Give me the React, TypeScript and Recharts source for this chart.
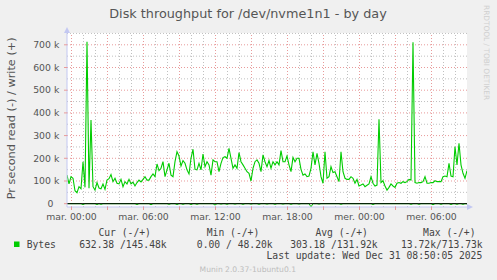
import { LineChart, Line, XAxis, YAxis, CartesianGrid, ReferenceLine } from "recharts";

// write throughput, kB/s, one sample every 10 min starting 23:37 (mon)
const writeK = [
  126, 87, 119, 112, 57, 48.2, 75, 66, 185, 72,
  713.73, 68, 369, 75, 60, 93, 69, 66, 87, 63,
  104, 110, 128, 97, 112, 90, 87, 107, 75, 97,
  87, 107, 87, 95, 78, 93, 104, 96, 107, 119,
  104, 104, 119, 131, 119, 175, 146, 156, 185, 119,
  149, 178, 126, 119, 185, 229, 210, 166, 190, 178,
  149, 131, 200, 240, 151, 149, 178, 149, 219, 163,
  185, 171, 126, 193, 185, 185, 141, 178, 203, 207,
  200, 244, 200, 156, 171, 156, 225, 185, 171, 156,
  141, 134, 100, 156, 185, 193, 178, 141, 215, 185,
  163, 190, 156, 185, 171, 185, 171, 234, 185, 185,
  210, 171, 141, 204, 185, 200, 200, 151, 126, 131,
  119, 122, 156, 229, 171, 222, 178, 119, 90, 229,
  112, 119, 163, 137, 141, 119, 97, 229, 141, 112,
  107, 107, 119, 112, 90, 107, 78, 82, 87, 75,
  81, 87, 119, 90, 78, 82, 372, 93, 101, 78,
  60, 72, 87, 78, 72, 90, 93, 90, 97, 93,
  97, 107, 104, 711, 93, 90, 93, 93, 97, 119,
  90, 90, 93, 93, 101, 97, 97, 97, 119, 122,
  119, 178, 122, 119, 251, 171, 266, 171, 134, 112,
  145.48,
];

// read throughput, kB/s (drawn below zero)
const readK = [
  0, 0, 0, 0, 0, 0, 0, 0, 4, 0,
  0, 0, 0, 0, 0, 4, 0, 3, 0, 0,
  0, 0, 0, 0, 0, 0, 0, 0, 0, 0,
  0, 0, 0, 0, 0, 4, 0, 0, 0, 0,
  0, 0, 5, 0, 0, 0, 0, 0, 0, 0,
  0, 3, 0, 0, 0, 4, 0, 0, 3, 0,
  0, 0, 4, 0, 0, 3, 0, 0, 0, 0,
  0, 0, 0, 0, 6, 0, 0, 2, 0, 0,
  3, 0, 0, 0, 2, 0, 0, 0, 3, 0,
  0, 0, 2, 0, 0, 0, 3, 0, 0, 0,
  2, 0, 0, 0, 3, 0, 0, 0, 2, 0,
  0, 0, 3, 0, 0, 0, 2, 0, 0, 0,
  0, 0, 13.72, 0, 0, 0, 2, 0, 0, 0,
  0, 0, 0, 0, 0, 0, 0, 3, 0, 0,
  0, 0, 0, 0, 0, 0, 0, 0, 0, 0,
  0, 0, 0, 4, 0, 0, 0, 0, 0, 0,
  0, 0, 0, 0, 0, 0, 0, 0, 0, 0,
  0, 0, 3, 0, 0, 0, 3, 0, 0, 0,
  0, 0, 0, 5, 0, 0, 0, 3, 0, 0,
  0, 0, 4, 0, 0, 3, 0, 0, 3, 0,
  0.63,
];

const xLabels = ["mar. 00:00", "mar. 06:00", "mar. 12:00", "mar. 18:00", "mer. 00:00", "mer. 06:00"];
const yTicks = [0, 100, 200, 300, 400, 500, 600, 700];
const legendHeaders = ["Cur (-/+)", "Min (-/+)", "Avg (-/+)", "Max (-/+)"];
const legendValues = ["632.38 /145.48k", "0.00 / 48.20k", "303.18 /131.92k", "13.72k/713.73k"];

const START_H = -0.375; // hours relative to tue 00:00
const STEP_H = 1 / 6;
const X_DOMAIN: [number, number] = [START_H, START_H + 400 / 12];
const Y_DOMAIN: [number, number] = [-14.6, 752];

const data = writeK.map((w, i) => ({ t: START_H + i * STEP_H, write: w, read: -readK[i] }));

const majorV = Array.from({ length: 11 }, (_, i) => i * 3);
const minorV = Array.from({ length: 33 }, (_, i) => i).filter((h) => h % 3 !== 0);
const majorH = yTicks.filter((v) => v > 0);
const minorH = Array.from({ length: 8 }, (_, i) => 50 + i * 100);

const GREEN = "#00cc00";
const MAJOR = "#e89a9a";
const MINOR = "#c0c0c0";
const AXIS = "#c3c8f2";
const SANS = "DejaVu Sans";
const MONO = "DejaVu Sans Mono";

const YTick = (p: any) => (
  <text x={p.x - (p.payload.value === 0 ? 6 : 0)} y={p.y} dy="0.355em" textAnchor="end" fill="#555" fontSize={9.3} fontFamily={SANS}>
    {p.payload.value === 0 ? "0" : `${p.payload.value} k`}
  </text>
);

export default function App() {
  return (
    <div style={{ position: "fixed", left: 0, top: 0, width: 497, height: 280, background: "#f0f0f0", overflow: "hidden" }}>
      <LineChart width={497} height={280} data={data} margin={{ top: 33, right: 30, bottom: 43, left: 0 }}>
        <CartesianGrid horizontal={false} vertical={false} fill="#ffffff" />
        {minorH.map((v) => (
          <ReferenceLine key={"mh" + v} y={v} stroke={MINOR} strokeDasharray="1 2" />
        ))}
        {minorV.map((v) => (
          <ReferenceLine key={"mv" + v} x={v} stroke={MINOR} strokeDasharray="1 2" />
        ))}
        {majorH.map((v) => (
          <ReferenceLine key={"Mh" + v} y={v} stroke={MAJOR} strokeDasharray="1 2" />
        ))}
        {majorV.map((v) => (
          <ReferenceLine key={"Mv" + v} x={v} stroke={MAJOR} strokeDasharray="1 2" />
        ))}
        <XAxis
          dataKey="t"
          type="number"
          domain={X_DOMAIN}
          allowDataOverflow
          ticks={majorV}
          interval={0}
          tickFormatter={(h: number) => (h % 6 === 0 ? xLabels[h / 6] : "")}
          tick={{ fill: "#555", fontSize: 9.3, fontFamily: SANS }}
          tickSize={3}
          tickMargin={3.5}
          tickLine={{ stroke: MAJOR }}
          axisLine={{ stroke: AXIS }}
        />
        <YAxis
          type="number"
          domain={Y_DOMAIN}
          allowDataOverflow
          ticks={yTicks}
          interval={0}
          width={67}
          tick={YTick}
          tickSize={3}
          tickMargin={4.7}
          tickLine={{ stroke: MAJOR }}
          axisLine={{ stroke: AXIS }}
        />
        <Line dataKey="read" stroke={GREEN} strokeWidth={1} dot={false} isAnimationActive={false} />
        <Line dataKey="write" stroke={GREEN} strokeWidth={1.1} dot={false} isAnimationActive={false} />
        <ReferenceLine y={0} stroke="#000000" strokeWidth={1} />
      </LineChart>
      <svg width={497} height={280} style={{ position: "absolute", left: 0, top: 0, pointerEvents: "none" }}>
        <text x={248} y={18.3} textAnchor="middle" fontFamily={SANS} fontSize={12.8} fill="#555">
          Disk throughput for /dev/nvme1n1 - by day
        </text>
        <text transform="translate(14.5,118.3) rotate(-90)" textAnchor="middle" fontFamily={SANS} fontSize={11.3} fill="#555">
          Pr second read (-) / write (+)
        </text>
        <text transform="translate(483.5,5) rotate(90)" fontFamily={SANS} fontSize={7.4} fill="#cfcfcf">
          RRDTOOL / TOBI OETIKER
        </text>
        <polygon points="64,33 70,33 67,27" fill={AXIS} />
        <polygon points="467,204 467,210 473,207" fill={AXIS} />
        {legendHeaders.map((h, i) => (
          <text key={h} x={[124.7, 233, 341.7, 449.3][i]} y={235.7} textAnchor="middle" fontFamily={MONO} fontSize={9.7} fill="#444" style={{ whiteSpace: "pre" }}>
            {h}
          </text>
        ))}
        <rect x={14} y={241.5} width={5.5} height={5.5} fill={GREEN} />
        <text x={26.7} y={247.5} fontFamily={MONO} fontSize={9.7} fill="#444">
          Bytes
        </text>
        {legendValues.map((v, i) => (
          <text key={v} x={[166.7, 272.7, 377.7, 482.7][i]} y={247.5} textAnchor="end" fontFamily={MONO} fontSize={9.7} fill="#444" style={{ whiteSpace: "pre" }}>
            {v}
          </text>
        ))}
        <text x={482.3} y={259.3} textAnchor="end" fontFamily={MONO} fontSize={9.7} fill="#444">
          Last update: Wed Dec 31 08:50:05 2025
        </text>
        <text x={247.8} y={272} textAnchor="middle" fontFamily={SANS} fontSize={7.6} fill="#bdbdbd">
          Munin 2.0.37-1ubuntu0.1
        </text>
      </svg>
    </div>
  );
}
